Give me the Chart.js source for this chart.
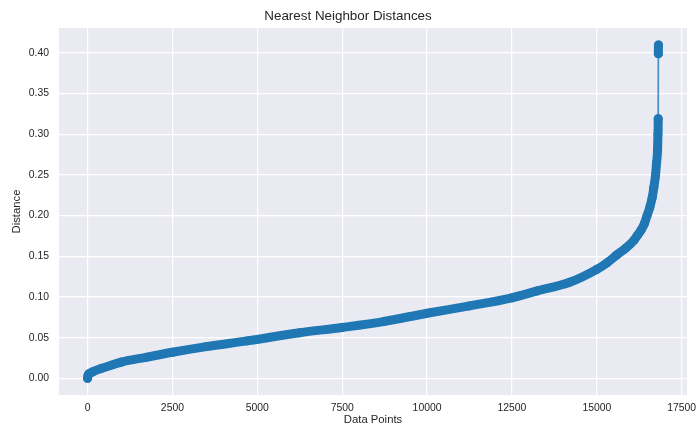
<!DOCTYPE html>
<html>
<head>
<meta charset="utf-8">
<title>Nearest Neighbor Distances</title>
<script src="https://cdn.jsdelivr.net/npm/chart.js@4.4.1/dist/chart.umd.min.js"></script>
<style>
  html, body { margin: 0; padding: 0; background: #ffffff; }
  #wrap { width: 696px; height: 426px; }
</style>
</head>
<body>
<div id="wrap"><canvas id="knnChart" width="696" height="426"></canvas></div>
<script>
// sorted k-distance curve
const pointIdx = [0, 15, 60, 150, 400, 1000, 1750, 2500, 3500, 4700, 6250, 7500, 8750, 10000,
  11250, 12500, 13250, 14200, 15000, 15300, 15600, 15850, 16100, 16200, 16300, 16400, 16480, 16560,
  16630, 16680, 16730, 16760, 16790, 16800, 16808, 16812, 16815];
const distances = [0.000, 0.004, 0.006, 0.008, 0.012, 0.020, 0.026, 0.032, 0.039, 0.046, 0.056, 0.0625, 0.070, 0.080,
  0.089, 0.099, 0.1075, 0.118, 0.134, 0.142, 0.152, 0.160, 0.170, 0.176, 0.182, 0.190, 0.200, 0.210,
  0.222, 0.235, 0.250, 0.265, 0.282, 0.300, 0.319, 0.3988, 0.4098];

const xTicks = [0, 2500, 5000, 7500, 10000, 12500, 15000, 17500];
const yTicks = [0.00, 0.05, 0.10, 0.15, 0.20, 0.25, 0.30, 0.35, 0.40];

const BLUE = '#1f77b4';
const TEXT = '#262626';
const FONT = "'Liberation Sans', Arial, sans-serif";

// seaborn darkgrid background behind the plot area
const plotBg = {
  id: 'plotBg',
  beforeDraw(chart) {
    const { ctx, chartArea: a } = chart;
    ctx.save();
    ctx.fillStyle = '#eaeaf2';
    ctx.fillRect(a.left, a.top, a.right - a.left, a.bottom - a.top);
    ctx.restore();
  }
};

// a jump between neighbours shows the thin connecting line, the dense run is a thick band
const isJump = c => distances[c.p1DataIndex] - distances[c.p0DataIndex] > 0.05;

window.addEventListener('DOMContentLoaded', () => {
  const ctx = document.getElementById('knnChart').getContext('2d');

  new Chart(ctx, {
    type: 'line',
    data: {
      datasets: [{
        label: 'Distance',
        data: pointIdx.map((x, i) => ({ x: x, y: distances[i] })),
        borderColor: BLUE,
        backgroundColor: BLUE,
        pointBackgroundColor: BLUE,
        pointBorderColor: BLUE,
        pointRadius: 4.5,
        pointBorderWidth: 0,
        borderCapStyle: 'round',
        borderJoinStyle: 'round',
        cubicInterpolationMode: 'monotone',
        fill: false,
        segment: {
          borderWidth: c => (isJump(c) ? 1.7 : 9),
          borderColor: c => (isJump(c) ? 'rgba(31,119,180,0.8)' : BLUE)
        }
      }]
    },
    options: {
      responsive: false,
      animation: false,
      layout: { padding: 0 },
      plugins: {
        legend: { display: false },
        tooltip: { enabled: false },
        title: {
          display: true,
          text: 'Nearest Neighbor Distances',
          color: TEXT,
          font: { family: FONT, size: 13.4, weight: 'normal' },
          padding: { top: 8, bottom: 4 }
        }
      },
      scales: {
        x: {
          type: 'linear',
          min: -841,
          max: 17656,
          border: { display: false },
          grid: { color: '#ffffff', lineWidth: 1.2, drawTicks: false },
          afterBuildTicks: s => { s.ticks = xTicks.map(v => ({ value: v })); },
          afterFit: s => {
            s.height = 31;
            s.paddingLeft = 0;
            s.paddingRight = 9;
          },
          ticks: {
            color: TEXT,
            font: { family: FONT, size: 10.4 },
            padding: 7,
            maxRotation: 0,
            callback: v => String(v)
          },
          title: {
            display: true,
            text: 'Data Points',
            color: TEXT,
            font: { family: FONT, size: 11.3, lineHeight: 1 },
            padding: 0
          }
        },
        y: {
          type: 'linear',
          min: -0.0205,
          max: 0.4305,
          border: { display: false },
          grid: { color: '#ffffff', lineWidth: 1.2, drawTicks: false },
          afterBuildTicks: s => { s.ticks = yTicks.map(v => ({ value: v })); },
          afterFit: s => {
            s.width = 59;
            s.paddingTop = 0;
            s.paddingBottom = 0;
          },
          ticks: {
            color: TEXT,
            font: { family: FONT, size: 10.4 },
            padding: 10,
            callback: v => Number(v).toFixed(2)
          },
          title: {
            display: true,
            text: 'Distance',
            color: TEXT,
            font: { family: FONT, size: 11.3, lineHeight: 1 },
            padding: { top: 11, bottom: 0 }
          }
        }
      }
    },
    plugins: [plotBg]
  });
});
</script>
</body>
</html>
